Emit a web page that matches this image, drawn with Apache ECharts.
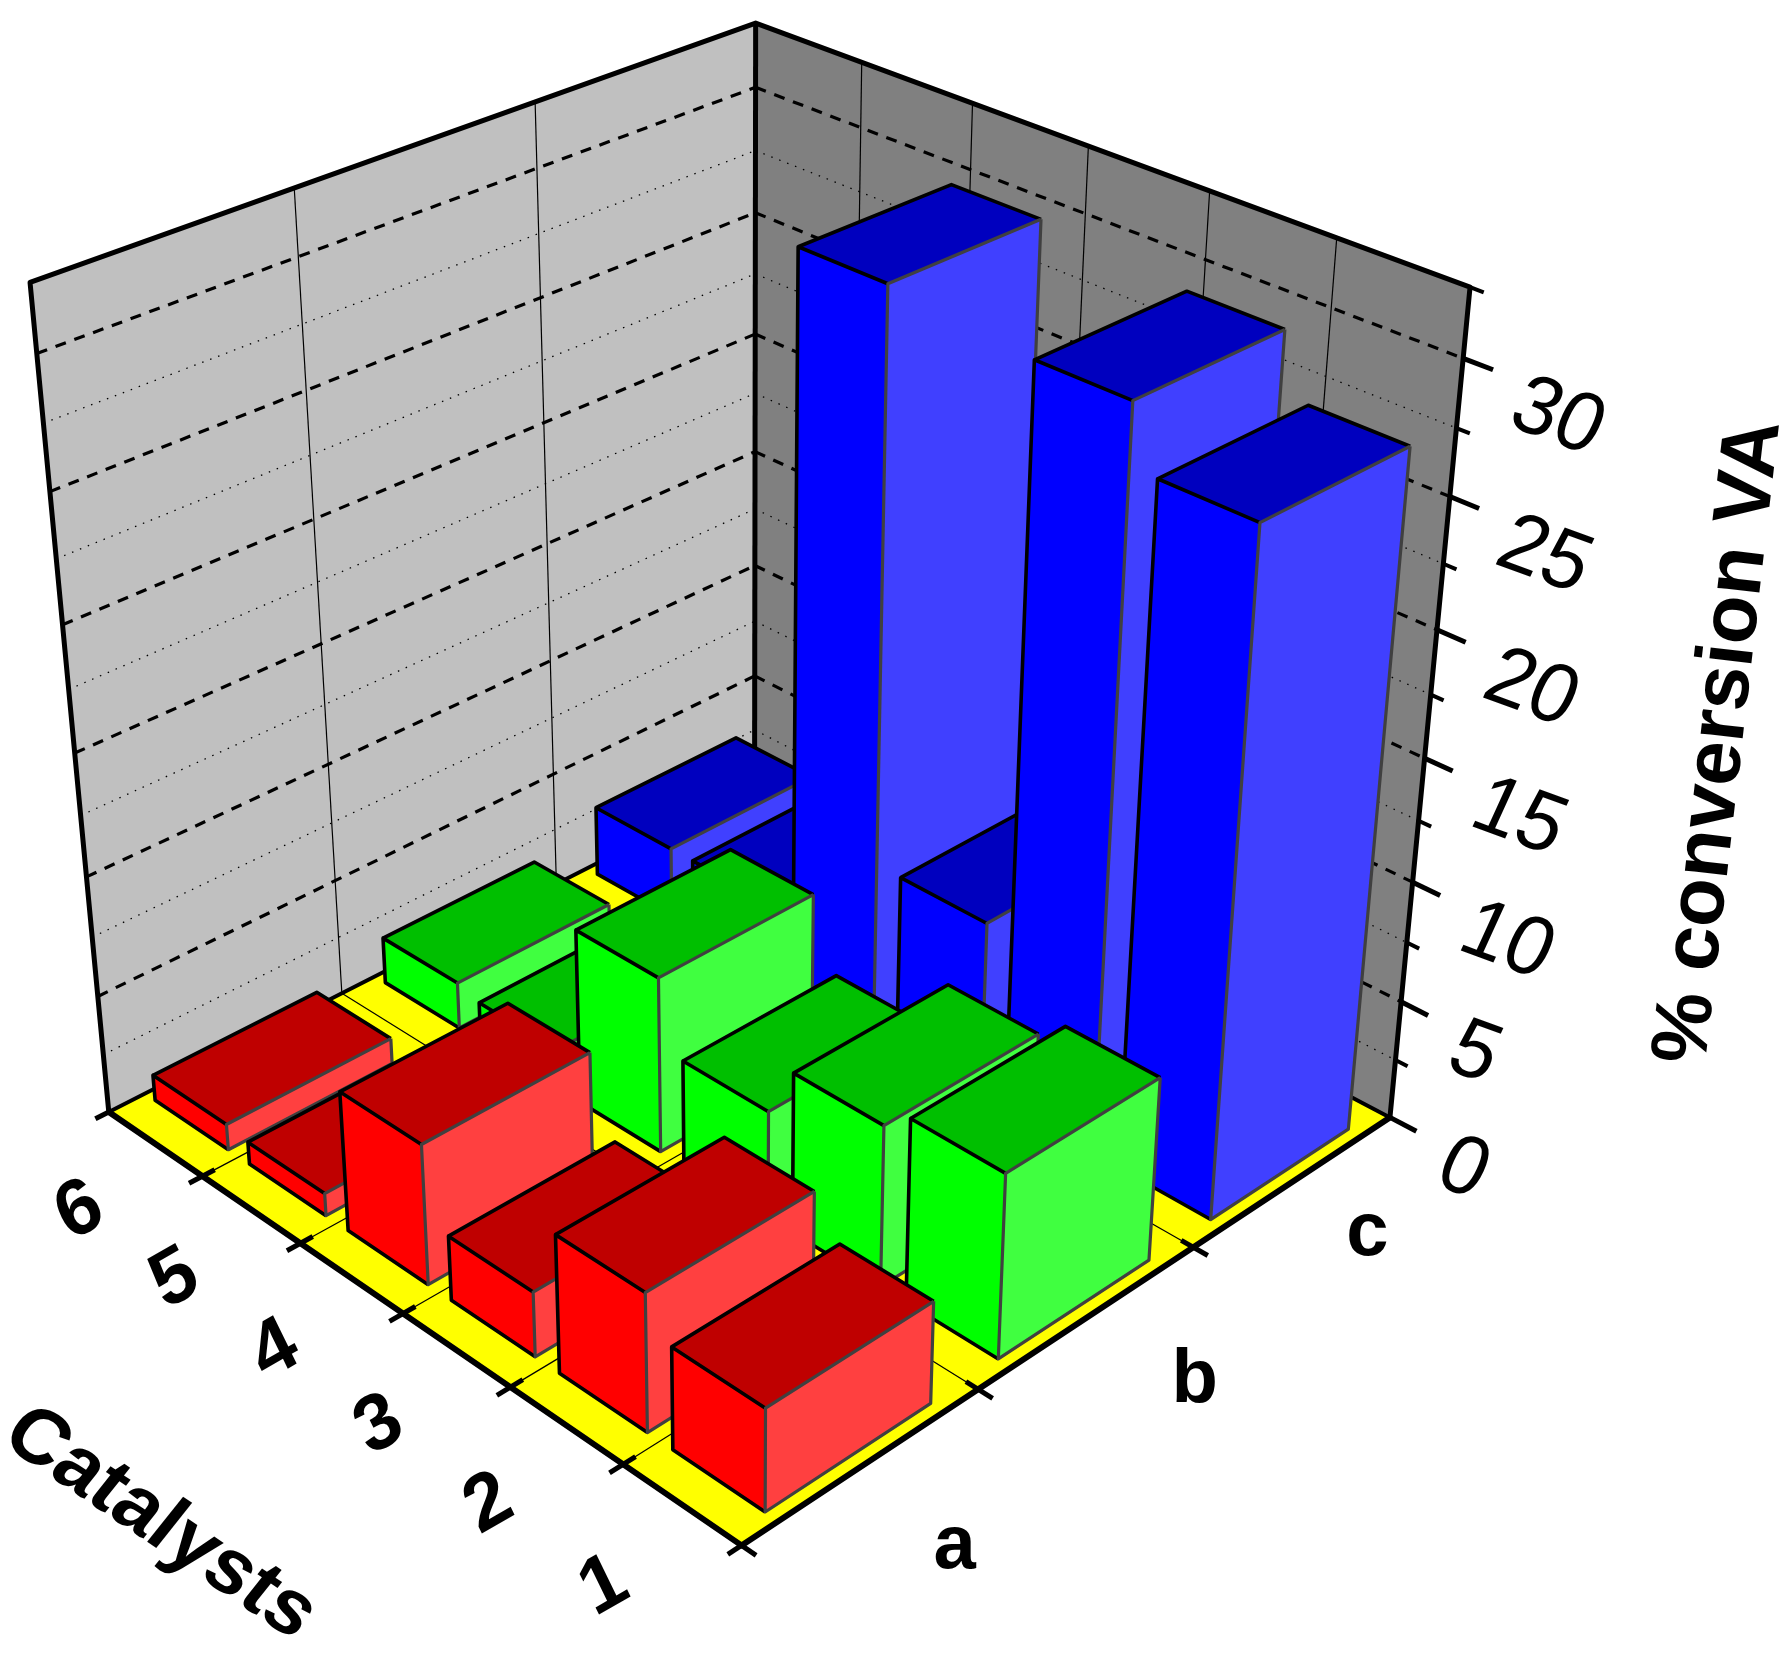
<!DOCTYPE html>
<html><head><meta charset="utf-8">
<style>html,body{margin:0;padding:0;background:#fff}#c{width:1790px;height:1660px}</style>
<script src="https://cdn.jsdelivr.net/npm/echarts@6/dist/echarts.min.js"></script>
</head><body><div id="c"></div>
<script>
// ---- data ----
const catalysts = ['1','2','3','4','5','6'];
const groups = ['a','b','c'];
const zTicks = [0,5,10,15,20,25,30];
const zMax = 32.5;
const seriesA = [4.2,5.7,2.7,5.85,0.95,1.1];
const seriesB = [7.6,6.7,4.5,7.4,1.7,2.0];
const seriesC = [27.2,29.55,7.2,30.1,3.05,3.05];

// ---- view calibration: frame reference points -> picture position ----
const calib = [
 [0,0,0,742,1546],[6,0,0,110,1110],[0,3,0,1389,1117],[6,3,0,755,785],
 [6,0,32.5,31,283],[0,3,32.5,1470,288],[6,3,32.5,755,22],
 [0,3,30,1463,358],[0,3,25,1450,497],[0,3,20,1437,630],[0,3,5,1402,1000],
 [5,0,0,201,1176],[4,0,0,300,1243],[3,0,0,403,1315],
 [6,1,32.5,293,188],[6,2,32.5,536,102]
];
function solve(A,b){const n=b.length;for(let i=0;i<n;i++){let p=i;for(let r=i+1;r<n;r++)if(Math.abs(A[r][i])>Math.abs(A[p][i]))p=r;
 [A[i],A[p]]=[A[p],A[i]];[b[i],b[p]]=[b[p],b[i]];for(let r=i+1;r<n;r++){const f=A[r][i]/A[i][i];for(let c=i;c<n;c++)A[r][c]-=f*A[i][c];b[r]-=f*b[i];}}
 const x=new Array(n);for(let i=n-1;i>=0;i--){let s=b[i];for(let c=i+1;c<n;c++)s-=A[i][c]*x[c];x[i]=s/A[i][i];}return x;}
const P=(function(){const rows=[],rhs=[];calib.forEach(([u,v,w,x,y])=>{const a=u/6,b=v/3,c=w/32.5,X=x/1000,Y=y/1000;
 rows.push([a,b,c,1,0,0,0,0,-X*a,-X*b,-X*c]);rhs.push(X);rows.push([0,0,0,0,a,b,c,1,-Y*a,-Y*b,-Y*c]);rhs.push(Y);});
 const n=11,N=[],t=[];for(let i=0;i<n;i++){N.push(new Array(n).fill(0));t.push(0);}
 rows.forEach((r,k)=>{for(let i=0;i<n;i++){t[i]+=r[i]*rhs[k];for(let j=0;j<n;j++)N[i][j]+=r[i]*r[j];}});return solve(N,t);})();
function proj(u,v,w){const a=u/6,b=v/3,c=w/32.5,d=P[8]*a+P[9]*b+P[10]*c+1;
 return [1000*(P[0]*a+P[1]*b+P[2]*c+P[3])/d,1000*(P[4]*a+P[5]*b+P[6]*c+P[7])/d];}

const barU=0.78, barV=0.70;
const palette={c:['#0000ff','#4040ff','#0000bf'],b:['#00ff00','#40ff40','#00bf00'],a:['#ff0000','#ff4040','#bf0000']};
const EDGE='#000', EDGE2='#404040';
const groupLabelShift=[[-26,5],[-11,-6],[-43,-11]];

function ln(api,pts,lw,stroke,dash){return {type:'polyline',silent:true,shape:{points:pts.map(p=>api.coord(p))},
 style:{fill:null,stroke:stroke||'#000',lineWidth:lw,lineDash:dash||null,lineCap:'butt',lineJoin:'round'}};}
function pg(api,pts,fill){return {type:'polygon',silent:true,shape:{points:pts.map(p=>api.coord(p))},style:{fill:fill,stroke:null}};}

function frameItem(params,api){
 const c=[];const A=proj(6,0,0),B=proj(0,0,0),C=proj(0,3,0),D=proj(6,3,0),At=proj(6,0,zMax),Ct=proj(0,3,zMax),Dt=proj(6,3,zMax);
 c.push(pg(api,[A,At,Dt,D],'#c0c0c0'));c.push(pg(api,[D,Dt,Ct,C],'#808080'));c.push(pg(api,[A,B,C,D],'#ffff00'));
 for(let i=1;i<=5;i++){c.push(ln(api,[proj(i,0,0),proj(i,3,0)],1.2));c.push(ln(api,[proj(i,3,0),proj(i,3,zMax)],1.2));}
 for(let i=1;i<=2;i++){c.push(ln(api,[proj(0,i,0),proj(6,i,0)],1.2));c.push(ln(api,[proj(6,i,0),proj(6,i,zMax)],1.2));}
 for(let w=2.5;w<zMax;w+=2.5){const maj=(w%5===0);
  const s=maj?[3.2,[11,9]]:[1.3,[1.5,7]];
  c.push(ln(api,[proj(6,0,w),proj(6,3,w)],s[0],'#000',s[1]));
  c.push(ln(api,[proj(6,3,w),proj(0,3,w)],s[0],'#000',s[1]));
 }
 c.push(ln(api,[A,B,C],6));
 c.push(ln(api,[C,D,A],4));
 c.push(ln(api,[A,At,Dt,Ct,C],5));
 c.push(ln(api,[D,Dt],5));
 for(let w=0;w<=zMax;w+=2.5){c.push(ln(api,[proj(0,3,w),proj(w%5===0?-0.22:-0.1,3,w)],w%5===0?5:4));}
 for(let i=0;i<=6;i++){const e=(i===0||i===6);c.push(ln(api,[proj(i,-0.055,0),proj(i,e?0:0.05,0)],5));}
 for(let i=0;i<=2;i++){c.push(ln(api,[proj(-0.12,i,0),proj(i===0?0:0.1,i,0)],5));}
 return {type:'group',children:c};
}
function barItem(key){return function(params,api){
 const i=api.value(0),val=api.value(1),g=groups.indexOf(key);
 const pal=palette[key];
 const u0=i+(1-barU)/2,u1=i+1-(1-barU)/2,v0=g+(1-barV)/2,v1=g+1-(1-barV)/2;
 const b00=proj(u0,v0,0),b10=proj(u1,v0,0),b01=proj(u0,v1,0);
 const t00=proj(u0,v0,val),t10=proj(u1,v0,val),t01=proj(u0,v1,val),t11=proj(u1,v1,val);
 return {type:'group',children:[
  pg(api,[b10,b00,t00,t10],pal[0]),
  pg(api,[b00,b01,t01,t00],pal[1]),
  pg(api,[t00,t01,t11,t10],pal[2]),
  ln(api,[b00,b10,t10,t00],3.6,EDGE),
  ln(api,[t10,t11,t01],3.6,EDGE),
  ln(api,[t01,t00,b00,b01,t01],3.2,EDGE2)
 ]};
};}
// text with an arbitrary linear map: col1 = image of text x axis, col2 = image of text y (down) axis
function skewText(api,text,pos,col1,col2,font,align){
 const [a,b]=col1,[c,d]=col2;
 const E=(a+d)/2,F=(a-d)/2,G=(b+c)/2,H=(b-c)/2,Q=Math.hypot(E,H),R=Math.hypot(F,G);
 const a1=Math.atan2(G,F),a2=Math.atan2(H,E),th=(a2-a1)/2,ph=(a2+a1)/2;
 const p=api.coord(pos);
 return {type:'group',x:p[0],y:p[1],rotation:-ph,children:[{type:'group',scaleX:Q+R,scaleY:Q-R,children:[
  {type:'text',rotation:-th,silent:true,style:{text:text,x:0,y:0,fill:'#000',font:font,align:align||'center',verticalAlign:'middle'}}]}]};
}
function labelItem(params,api){
 const c=[];
 const bold=s=>'bold '+s+'px "Liberation Sans", Arial, sans-serif', reg=s=>s+'px "Liberation Sans", Arial, sans-serif';
 catalysts.forEach((t,i)=>{const p=proj(i+0.5,-0.42,0);
  c.push(skewText(api,t,[p[0]+29,p[1]+14],[0.87,-0.5],[0.44,0.9],bold(78)));});
 groups.forEach((t,i)=>{const p=proj(-0.95,i+0.5,0),s=groupLabelShift[i];c.push(skewText(api,t,[p[0]+s[0],p[1]+s[1]],[1,0],[0,1],bold(76)));});
 zTicks.forEach(z=>{const p=proj(0,3,z);
  c.push(skewText(api,String(z),[p[0]+52,p[1]+45],[0.9,0.33],[-0.42,0.92],reg(84),'left'));});
 c.push(skewText(api,'% conversion VA',[1720,742],[0.115,-0.993],[0.993,0.115],bold(80)));
 c.push(skewText(api,'Catalysts',[160,1524],[0.83,0.56],[-0.62,0.78],bold(80)));
 return {type:'group',children:c};
}
const rev=arr=>arr.map((v,i)=>[i,v]).reverse();
const chart=echarts.init(document.getElementById('c'),null,{renderer:'canvas',width:1790,height:1660});
const base={type:'custom',coordinateSystem:'cartesian2d',clip:false,silent:true,animation:false};
chart.setOption({
 animation:false,backgroundColor:'#fff',
 grid:{left:0,right:0,top:0,bottom:0},
 xAxis:{type:'value',min:0,max:1790,show:false},
 yAxis:{type:'value',min:0,max:1660,inverse:true,show:false},
 tooltip:{show:false},
 series:[
  Object.assign({},base,{name:'frame',z:1,data:[[0,0]],renderItem:frameItem}),
  Object.assign({},base,{name:'c',z:2,data:rev(seriesC),renderItem:barItem('c')}),
  Object.assign({},base,{name:'b',z:3,data:rev(seriesB),renderItem:barItem('b')}),
  Object.assign({},base,{name:'a',z:4,data:rev(seriesA),renderItem:barItem('a')}),
  Object.assign({},base,{name:'labels',z:5,data:[[0,0]],renderItem:labelItem})
 ]
});
</script></body></html>
